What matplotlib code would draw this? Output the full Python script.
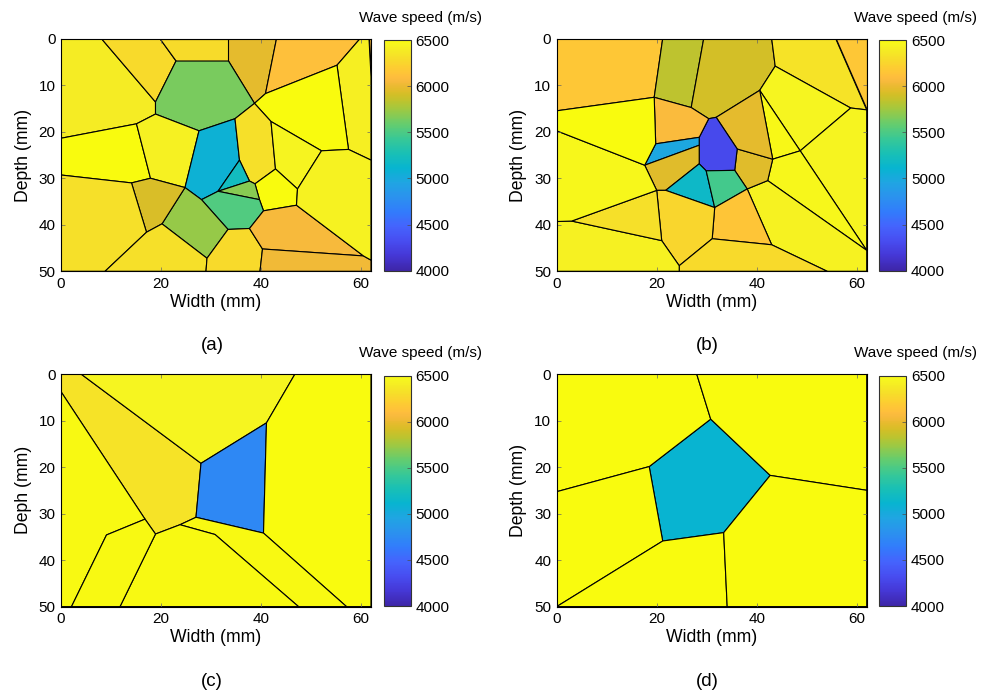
import numpy as np
import matplotlib
matplotlib.use("Agg")
import matplotlib.pyplot as plt
from matplotlib.collections import PolyCollection
from matplotlib.colors import LinearSegmentedColormap, Normalize
from matplotlib.cm import ScalarMappable

plt.rcParams['font.family'] = ['Liberation Sans', 'DejaVu Sans']

# ---- panel (a): cell vertices (width mm, depth mm), cells, wave speeds ----
a_vertices = np.array([
    (0, 0), (8.1, 0), (19.8, 0), (33.5, 0), (43.1, 0), (59.8, 0), (61.6, 0), (62, 0),
    (62, 8.0), (62, 26.1), (62, 47.6), (62, 50), (39.8, 50), (29.0, 50), (8.8, 50), (0, 50),
    (0, 29.3), (0, 21.4), (23.0, 4.8), (33.5, 4.8), (18.9, 13.6), (18.9, 16.2), (27.6, 19.8),
    (34.8, 17.2), (38.7, 13.9), (40.9, 11.8), (55.2, 5.7), (57.5, 23.8), (52.1, 24.1),
    (42.0, 17.8), (15.1, 18.3), (17.9, 30.0), (14.1, 31.0), (24.8, 32.0), (28.1, 34.6),
    (17.1, 41.6), (20.2, 39.8), (29.2, 47.2), (33.4, 41.0), (31.4, 32.8), (39.7, 34.6),
    (40.5, 37.0), (37.7, 40.8), (35.7, 26.1), (37.7, 30.6), (38.8, 31.2), (42.9, 28.0),
    (47.3, 32.3), (47.1, 35.8), (40.3, 45.2), (60.5, 46.7)])
a_cells = [
    [0, 1, 20, 21, 30, 17], [1, 2, 18, 20], [2, 3, 19, 18], [3, 4, 25, 24, 19],
    [4, 5, 26, 25], [5, 6, 8, 9, 27, 26], [6, 7, 8], [18, 19, 24, 23, 22, 21, 20],
    [24, 25, 26, 27, 28, 29], [17, 30, 31, 32, 16], [21, 22, 33, 31, 30],
    [22, 23, 43, 39, 34, 33], [23, 24, 29, 46, 45, 44, 43], [29, 28, 47, 46],
    [45, 46, 47, 48, 41, 40], [43, 44, 39], [39, 44, 45, 40], [34, 39, 40, 41, 42, 38],
    [33, 34, 38, 37, 36], [32, 31, 33, 36, 35], [16, 32, 35, 14, 15],
    [36, 37, 13, 14, 35], [38, 42, 49, 12, 13, 37], [42, 41, 48, 50, 49],
    [49, 50, 10, 11, 12], [28, 27, 9, 10, 50, 48, 47]]
a_speed = [6400, 6280, 6290, 5980, 6110, 6420, 6110, 5650, 6500, 6500, 6430,
           5080, 6320, 6450, 6500, 5220, 5680, 5520, 5720, 5930, 6320, 6320,
           6280, 6060, 6030, 6440]

# ---- panel (b) ----
b_vertices = np.array([
    (0, 0), (21.2, 0), (29.4, 0), (43.0, 0), (55.8, 0), (62, 0), (62, 15.3), (62, 45.5),
    (62, 50), (54.1, 50), (24.5, 50), (0, 50), (0, 39.3), (0, 19.8), (0, 15.5),
    (19.5, 12.6), (26.9, 14.8), (30.4, 17.2), (31.9, 16.9), (40.6, 11.1), (43.7, 5.9),
    (58.8, 14.9), (19.8, 22.6), (28.5, 21.2), (28.5, 22.9), (17.6, 27.2), (28.5, 26.9),
    (20.0, 32.6), (21.8, 32.6), (29.9, 28.4), (35.6, 28.3), (38.1, 32.3), (31.6, 36.3),
    (36.1, 23.7), (43.2, 25.9), (42.2, 30.5), (48.7, 24.1), (3.0, 39.2), (21.0, 43.4),
    (24.5, 48.8), (31.1, 43.0), (43.0, 44.3)])
b_cells = [
    [0, 1, 15, 14], [1, 2, 16, 15], [2, 3, 20, 19, 18, 17, 16], [3, 4, 6, 21, 20],
    [4, 5, 6], [19, 20, 21, 36], [36, 21, 6, 7], [19, 36, 34], [34, 36, 7, 35],
    [31, 35, 7, 8, 9, 41], [33, 34, 35, 31, 30], [18, 19, 34, 33],
    [17, 18, 33, 30, 29, 26, 24, 23], [15, 16, 17, 23, 22], [22, 23, 24, 25],
    [25, 24, 26, 28, 27], [26, 29, 32, 28], [29, 30, 31, 32], [32, 31, 41, 40],
    [27, 28, 32, 40, 39, 38], [39, 40, 41, 9, 10], [12, 37, 38, 39, 10, 11],
    [37, 27, 38], [13, 25, 27, 37, 12], [14, 15, 22, 25, 13]]
b_speed = [6160, 5845, 5905, 6340, 6160, 6460, 6450, 6480, 6470, 6440, 5960,
           5980, 4300, 6080, 4970, 5960, 5170, 5470, 6150, 6260, 6280, 6430,
           6320, 6470, 6500]

# ---- panel (c) ----
c_vertices = np.array([
    (0, 0), (4.0, 0), (46.8, 0), (62, 0), (62, 50), (57.1, 50), (47.5, 50), (11.8, 50),
    (2.1, 50), (0, 50), (0, 3.8), (28.0, 19.2), (41.1, 10.5), (40.5, 34.2), (27.0, 30.8),
    (18.9, 34.4), (23.8, 32.4), (16.8, 31.2), (9.1, 34.6), (30.8, 34.5)])
c_cells = [
    [0, 1, 11, 14, 16, 15, 17, 10], [1, 2, 12, 11], [11, 12, 13, 14],
    [2, 3, 4, 5, 13, 12], [14, 13, 5, 6, 19, 16], [16, 19, 6, 7, 15],
    [10, 17, 18, 8, 9], [17, 15, 7, 8, 18]]
c_speed = [6340, 6460, 4730, 6500, 6490, 6490, 6490, 6490]

# ---- panel (d) ----
d_vertices = np.array([
    (0, 0), (28.0, 0), (62, 0), (62, 25.0), (62, 50), (34.1, 50), (0, 50), (0, 25.3),
    (30.8, 9.7), (42.7, 21.8), (33.4, 34.1), (21.2, 35.9), (18.5, 19.9)])
d_cells = [[8, 9, 10, 11, 12], [0, 1, 8, 12, 7], [1, 2, 3, 9, 8], [7, 12, 11, 6],
           [6, 11, 10, 5], [10, 9, 3, 4, 5]]
d_speed = [5110, 6500, 6500, 6500, 6500, 6500]

panel_tags = ['(a)', '(b)', '(c)', '(d)']
y_labels = ['Depth (mm)', 'Depth (mm)', 'Deph (mm)', 'Depth (mm)']
speed_ticks = [4000, 4500, 5000, 5500, 6000, 6500]

# parula-like colormap (index out of 63, rgb)
parula_pts = [
    (0, (0.2422, 0.1504, 0.6603)), (4, (0.2706, 0.2147, 0.8364)),
    (8, (0.2813, 0.3006, 0.9414)), (12, (0.2699, 0.3892, 0.9906)),
    (16, (0.1963, 0.4847, 0.9892)), (20, (0.1687, 0.5703, 0.9359)),
    (24, (0.1248, 0.6459, 0.8883)), (28, (0.0297, 0.7082, 0.8163)),
    (32, (0.0964, 0.7500, 0.7120)), (36, (0.2161, 0.7843, 0.5923)),
    (40, (0.3909, 0.8029, 0.4354)), (44, (0.6174, 0.7876, 0.2612)),
    (46, (0.7242, 0.7698, 0.1910)), (48, (0.8203, 0.7498, 0.1535)),
    (49, (0.8634, 0.7406, 0.1596)), (50, (0.9035, 0.7330, 0.1774)),
    (51, (0.9393, 0.7288, 0.2100)), (52, (0.9728, 0.7298, 0.2394)),
    (53, (0.9956, 0.7434, 0.2371)), (54, (0.9970, 0.7659, 0.2199)),
    (56, (0.9892, 0.8136, 0.1885)), (58, (0.9678, 0.8639, 0.1643)),
    (60, (0.9613, 0.9135, 0.1446)), (62, (0.9657, 0.9611, 0.1248)),
    (63, (0.9763, 0.9831, 0.0538))]
parula = LinearSegmentedColormap.from_list(
    'parula', [(i / 63, c) for i, c in parula_pts])
norm = Normalize(4000, 6500)

fig = plt.figure(figsize=(9.88, 6.95), dpi=100)
W, H = 988, 695


def box(l, t, r, b):
    return [l / W, 1 - b / H, (r - l) / W, (b - t) / H]


panels = [(a_vertices, a_cells, a_speed), (b_vertices, b_cells, b_speed),
          (c_vertices, c_cells, c_speed), (d_vertices, d_cells, d_speed)]
lefts = [61, 556.7]
tops = [38.7, 374]

for k, (verts, cells, speed) in enumerate(panels):
    col, row = k % 2, k // 2
    l, t = lefts[col], tops[row]
    ax = fig.add_axes(box(l, t, l + 310, t + 232.6))
    polys = [verts[c] for c in cells]
    pc = PolyCollection(polys, array=np.array(speed, float), cmap=parula, norm=norm,
                        edgecolors='black', linewidths=0.8)
    ax.add_collection(pc)
    ax.set_xlim(0, 62)
    ax.set_ylim(50, 0)
    ax.set_xticks([0, 20, 40, 60])
    ax.set_yticks([0, 10, 20, 30, 40, 50])
    ax.tick_params(direction='in', length=3, width=0.5, labelsize=11, color='0.4',
                   top=True, right=True, pad=4)
    for s in ax.spines.values():
        s.set_linewidth(0.8)
    ax.set_xlabel('Width (mm)', fontsize=12.7, labelpad=2)
    ax.set_ylabel(y_labels[k], fontsize=12.7, labelpad=5)

    cax = fig.add_axes(box(l + 322.5, t + 1.5, l + 349.5, t + 232))
    cb = fig.colorbar(ScalarMappable(norm=norm, cmap=parula), cax=cax,
                      ticks=speed_ticks)
    cb.outline.set_linewidth(0.8)
    cb.outline.set_edgecolor('0.2')
    cax.tick_params(direction='in', length=3, width=0.5, labelsize=11, color='0.3')
    fig.text((l + 359) / W, 1 - (t - 21) / H, 'Wave speed (m/s)', fontsize=11,
             ha='center', va='center')
    fig.text((l + 151) / W, 1 - (t + 307) / H, panel_tags[k], fontsize=13.5,
             ha='center', va='center')

fig.savefig('out.png', dpi=100)
